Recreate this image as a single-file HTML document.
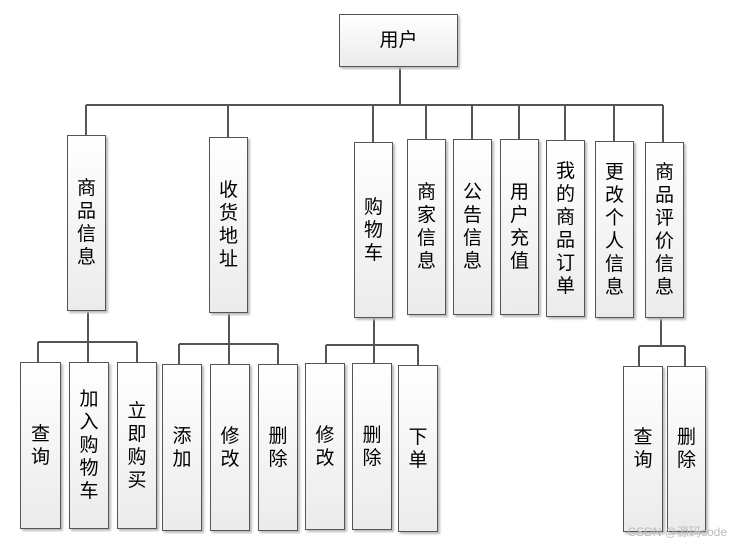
<!DOCTYPE html>
<html><head><meta charset="utf-8"><style>
body{margin:0;width:733px;height:548px;background:#fff;position:relative;overflow:hidden;font-family:"Liberation Sans","Noto Sans CJK SC",sans-serif;}
.b{position:absolute;box-sizing:border-box;border:1px solid #555;background:linear-gradient(#fff,#ebebeb);box-shadow:2px 2px 2px #bbb;display:flex;align-items:center;justify-content:center;text-align:center;font-size:19px;line-height:23px;color:#000;}
svg{position:absolute;left:0;top:0;}
.w{position:absolute;right:6px;bottom:8px;font-size:12px;color:#bbb;}
</style></head><body>
<svg width="733" height="548"><g stroke="#555" stroke-width="2" fill="none">
<path d="M400 67V105M86 105H663M86 105V135M228 105V137M373 105V142M426 105V139M472 105V139M519 105V139M565 105V140M614 105V141M663 105V142"/>
<path d="M88 311V362M38 342H137M38 342V362M137 342V362"/>
<path d="M229 313V364M179 344H278M179 344V364M278 344V364"/>
<path d="M374 318V363M326 345H418M326 345V363M418 345V365"/>
<path d="M661 318V346M639 346H685M639 346V366M685 346V366"/>
</g></svg>
<div class="b" style="left:339px;top:14px;width:119px;height:53px;">用户</div>
<div class="b" style="left:67px;top:135px;width:39px;height:176px;">商<br>品<br>信<br>息</div>
<div class="b" style="left:209px;top:137px;width:39px;height:176px;">收<br>货<br>地<br>址</div>
<div class="b" style="left:354px;top:142px;width:39px;height:176px;">购<br>物<br>车</div>
<div class="b" style="left:407px;top:139px;width:39px;height:176px;">商<br>家<br>信<br>息</div>
<div class="b" style="left:453px;top:139px;width:39px;height:176px;">公<br>告<br>信<br>息</div>
<div class="b" style="left:500px;top:139px;width:39px;height:176px;">用<br>户<br>充<br>值</div>
<div class="b" style="left:546px;top:140px;width:39px;height:177px;">我<br>的<br>商<br>品<br>订<br>单</div>
<div class="b" style="left:595px;top:141px;width:39px;height:177px;">更<br>改<br>个<br>人<br>信<br>息</div>
<div class="b" style="left:645px;top:142px;width:39px;height:176px;">商<br>品<br>评<br>价<br>信<br>息</div>
<div class="b" style="left:20px;top:362px;width:41px;height:167px;">查<br>询</div>
<div class="b" style="left:69px;top:362px;width:40px;height:167px;">加<br>入<br>购<br>物<br>车</div>
<div class="b" style="left:117px;top:362px;width:40px;height:167px;">立<br>即<br>购<br>买</div>
<div class="b" style="left:162px;top:364px;width:40px;height:167px;">添<br>加</div>
<div class="b" style="left:210px;top:364px;width:40px;height:167px;">修<br>改</div>
<div class="b" style="left:258px;top:364px;width:40px;height:167px;">删<br>除</div>
<div class="b" style="left:305px;top:363px;width:40px;height:167px;">修<br>改</div>
<div class="b" style="left:352px;top:363px;width:40px;height:167px;">删<br>除</div>
<div class="b" style="left:398px;top:365px;width:40px;height:167px;">下<br>单</div>
<div class="b" style="left:623px;top:366px;width:40px;height:166px;">查<br>询</div>
<div class="b" style="left:667px;top:366px;width:39px;height:166px;">删<br>除</div>
<div class="w">CSDN @源码code</div>
</body></html>
